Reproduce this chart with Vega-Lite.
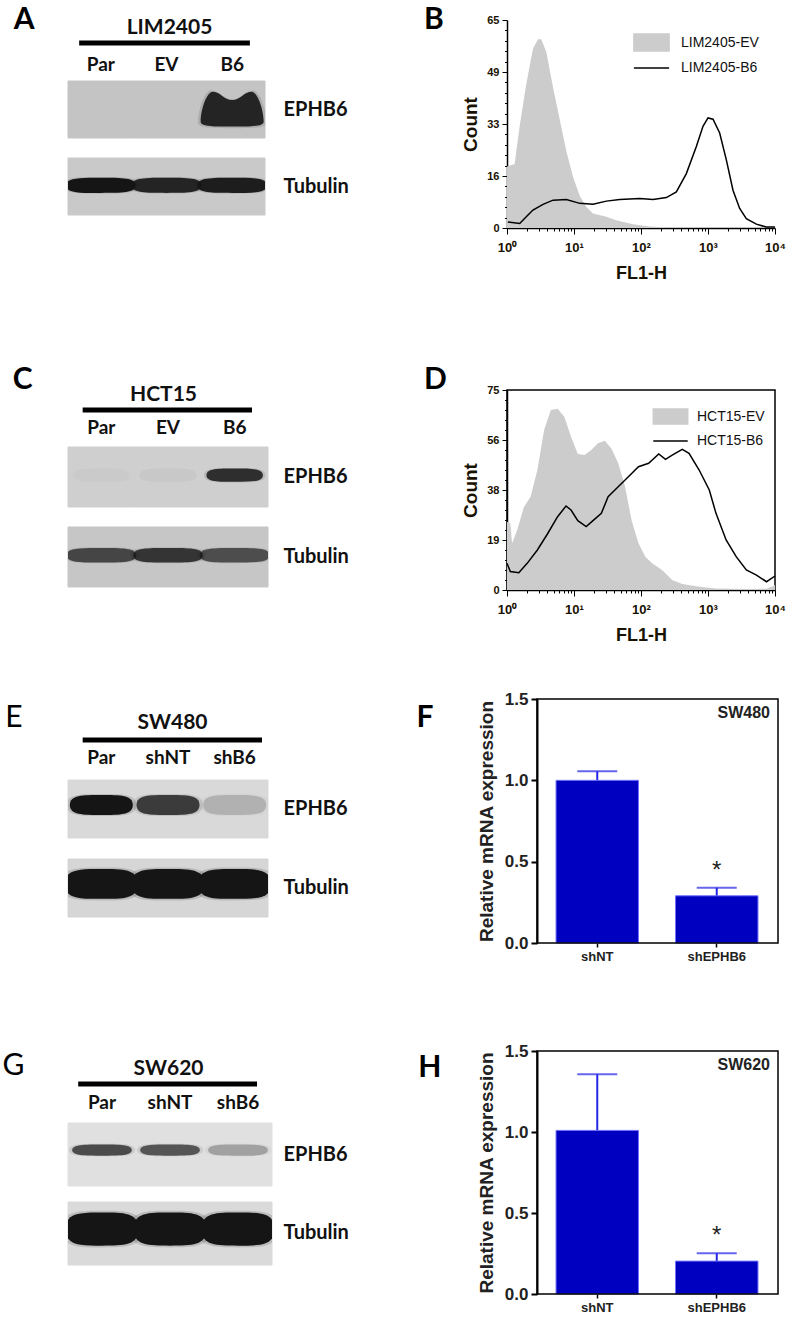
{
  "$schema": "https://vega.github.io/schema/vega-lite/v6.json",
  "background": "white",
  "padding": {"left": 2, "top": 5, "right": 0, "bottom": 0},
  "columns": 2,
  "align": {"row": "each", "column": "none"},
  "bounds": "flush",
  "spacing": {"row": 108, "column": 235},
  "config": {
    "view": {"stroke": null},
    "font": "Liberation Sans",
    "axis": {"grid": false, "domainColor": "black", "tickColor": "black", "labelFont": "Liberation Sans", "titleFont": "Liberation Sans", "labelColor": "black", "titleColor": "black"},
    "legend": {"labelFont": "Liberation Sans"},
    "title": {"font": "Lato"}
  },
  "resolve": {"scale": {"x": "independent", "y": "independent", "color": "independent", "stroke": "independent", "opacity": "independent", "fillOpacity": "independent", "shape": "independent"}, "legend": {"color": "independent"}},
  "datasets": {
    "blotA": [
      {"lane": "Par", "protein": "EPHB6", "level": 0},
      {"lane": "EV", "protein": "EPHB6", "level": 0},
      {"lane": "B6", "protein": "EPHB6", "level": 0.9},
      {"lane": "Par", "protein": "Tubulin", "level": 1},
      {"lane": "EV", "protein": "Tubulin", "level": 0.9},
      {"lane": "B6", "protein": "Tubulin", "level": 0.95}
    ],
    "blotC": [
      {"lane": "Par", "protein": "EPHB6", "level": 0.015},
      {"lane": "EV", "protein": "EPHB6", "level": 0.03},
      {"lane": "B6", "protein": "EPHB6", "level": 0.85},
      {"lane": "Par", "protein": "Tubulin", "level": 0.7},
      {"lane": "EV", "protein": "Tubulin", "level": 0.8},
      {"lane": "B6", "protein": "Tubulin", "level": 0.65}
    ],
    "blotE": [
      {"lane": "Par", "protein": "EPHB6", "level": 1},
      {"lane": "shNT", "protein": "EPHB6", "level": 0.78},
      {"lane": "shB6", "protein": "EPHB6", "level": 0.18},
      {"lane": "Par", "protein": "Tubulin", "level": 1},
      {"lane": "shNT", "protein": "Tubulin", "level": 1},
      {"lane": "shB6", "protein": "Tubulin", "level": 1}
    ],
    "blotG": [
      {"lane": "Par", "protein": "EPHB6", "level": 0.7},
      {"lane": "shNT", "protein": "EPHB6", "level": 0.65},
      {"lane": "shB6", "protein": "EPHB6", "level": 0.28},
      {"lane": "Par", "protein": "Tubulin", "level": 1},
      {"lane": "shNT", "protein": "Tubulin", "level": 1},
      {"lane": "shB6", "protein": "Tubulin", "level": 1}
    ],
    "histB": [
      {"sample": "LIM2405-EV", "fl": 1, "count": 19.2},
      {"sample": "LIM2405-EV", "fl": 1.3, "count": 20},
      {"sample": "LIM2405-EV", "fl": 1.55, "count": 32},
      {"sample": "LIM2405-EV", "fl": 1.94, "count": 45},
      {"sample": "LIM2405-EV", "fl": 2.44, "count": 56},
      {"sample": "LIM2405-EV", "fl": 2.9, "count": 59},
      {"sample": "LIM2405-EV", "fl": 3.25, "count": 59},
      {"sample": "LIM2405-EV", "fl": 3.86, "count": 55},
      {"sample": "LIM2405-EV", "fl": 4.86, "count": 44},
      {"sample": "LIM2405-EV", "fl": 6.11, "count": 34},
      {"sample": "LIM2405-EV", "fl": 7.69, "count": 24},
      {"sample": "LIM2405-EV", "fl": 9.66, "count": 16},
      {"sample": "LIM2405-EV", "fl": 12.2, "count": 10},
      {"sample": "LIM2405-EV", "fl": 15.3, "count": 6.6},
      {"sample": "LIM2405-EV", "fl": 19.2, "count": 4.5},
      {"sample": "LIM2405-EV", "fl": 30.4, "count": 3.5},
      {"sample": "LIM2405-EV", "fl": 42.8, "count": 2.4},
      {"sample": "LIM2405-EV", "fl": 76, "count": 1.2},
      {"sample": "LIM2405-EV", "fl": 135, "count": 0.5},
      {"sample": "LIM2405-EV", "fl": 239, "count": 0.2},
      {"sample": "LIM2405-EV", "fl": 1000, "count": 0},
      {"sample": "LIM2405-EV", "fl": 10000, "count": 0},
      {"sample": "LIM2405-B6", "fl": 1.03, "count": 1.9},
      {"sample": "LIM2405-B6", "fl": 1.55, "count": 1.4},
      {"sample": "LIM2405-B6", "fl": 1.94, "count": 3.5},
      {"sample": "LIM2405-B6", "fl": 2.44, "count": 5.6},
      {"sample": "LIM2405-B6", "fl": 3.45, "count": 7.4},
      {"sample": "LIM2405-B6", "fl": 4.86, "count": 8.7},
      {"sample": "LIM2405-B6", "fl": 7.69, "count": 8.9},
      {"sample": "LIM2405-B6", "fl": 12.2, "count": 7.7},
      {"sample": "LIM2405-B6", "fl": 19.2, "count": 7.4},
      {"sample": "LIM2405-B6", "fl": 30.4, "count": 8.4},
      {"sample": "LIM2405-B6", "fl": 48.1, "count": 8.9},
      {"sample": "LIM2405-B6", "fl": 95.5, "count": 9.2},
      {"sample": "LIM2405-B6", "fl": 151, "count": 8.9},
      {"sample": "LIM2405-B6", "fl": 239, "count": 9.5},
      {"sample": "LIM2405-B6", "fl": 337, "count": 11.3},
      {"sample": "LIM2405-B6", "fl": 475, "count": 17},
      {"sample": "LIM2405-B6", "fl": 670, "count": 25.5},
      {"sample": "LIM2405-B6", "fl": 842, "count": 31.8},
      {"sample": "LIM2405-B6", "fl": 1000, "count": 34.4},
      {"sample": "LIM2405-B6", "fl": 1188, "count": 34},
      {"sample": "LIM2405-B6", "fl": 1494, "count": 29.7},
      {"sample": "LIM2405-B6", "fl": 1878, "count": 21.3},
      {"sample": "LIM2405-B6", "fl": 2360, "count": 11.8},
      {"sample": "LIM2405-B6", "fl": 2970, "count": 6.1},
      {"sample": "LIM2405-B6", "fl": 3733, "count": 2.9},
      {"sample": "LIM2405-B6", "fl": 5265, "count": 1.2},
      {"sample": "LIM2405-B6", "fl": 7425, "count": 0.3},
      {"sample": "LIM2405-B6", "fl": 10000, "count": 0.3}
    ],
    "histD": [
      {"sample": "HCT15-EV", "fl": 1, "count": 25.6},
      {"sample": "HCT15-EV", "fl": 1.12, "count": 25},
      {"sample": "HCT15-EV", "fl": 1.19, "count": 17.5},
      {"sample": "HCT15-EV", "fl": 1.42, "count": 22.5},
      {"sample": "HCT15-EV", "fl": 1.78, "count": 31},
      {"sample": "HCT15-EV", "fl": 2.25, "count": 35},
      {"sample": "HCT15-EV", "fl": 2.84, "count": 45},
      {"sample": "HCT15-EV", "fl": 3.58, "count": 60},
      {"sample": "HCT15-EV", "fl": 4.51, "count": 67.5},
      {"sample": "HCT15-EV", "fl": 5.69, "count": 68},
      {"sample": "HCT15-EV", "fl": 7.17, "count": 65},
      {"sample": "HCT15-EV", "fl": 9.03, "count": 57.5},
      {"sample": "HCT15-EV", "fl": 11.4, "count": 51},
      {"sample": "HCT15-EV", "fl": 14.4, "count": 50.6},
      {"sample": "HCT15-EV", "fl": 18.1, "count": 52.5},
      {"sample": "HCT15-EV", "fl": 22.8, "count": 55},
      {"sample": "HCT15-EV", "fl": 28.8, "count": 56},
      {"sample": "HCT15-EV", "fl": 36.3, "count": 53},
      {"sample": "HCT15-EV", "fl": 45.7, "count": 47.5},
      {"sample": "HCT15-EV", "fl": 57.7, "count": 38.8},
      {"sample": "HCT15-EV", "fl": 72.7, "count": 26},
      {"sample": "HCT15-EV", "fl": 91.7, "count": 17.5},
      {"sample": "HCT15-EV", "fl": 116, "count": 12.5},
      {"sample": "HCT15-EV", "fl": 146, "count": 10},
      {"sample": "HCT15-EV", "fl": 206, "count": 7.5},
      {"sample": "HCT15-EV", "fl": 292, "count": 3.75},
      {"sample": "HCT15-EV", "fl": 413, "count": 2.25},
      {"sample": "HCT15-EV", "fl": 738, "count": 1.25},
      {"sample": "HCT15-EV", "fl": 1316, "count": 0.6},
      {"sample": "HCT15-EV", "fl": 4198, "count": 0.4},
      {"sample": "HCT15-EV", "fl": 7482, "count": 0.5},
      {"sample": "HCT15-EV", "fl": 9500, "count": 1.5},
      {"sample": "HCT15-EV", "fl": 10000, "count": 2},
      {"sample": "HCT15-B6", "fl": 1, "count": 10},
      {"sample": "HCT15-B6", "fl": 1.12, "count": 6.9},
      {"sample": "HCT15-B6", "fl": 1.5, "count": 6.5},
      {"sample": "HCT15-B6", "fl": 2, "count": 10},
      {"sample": "HCT15-B6", "fl": 2.84, "count": 15},
      {"sample": "HCT15-B6", "fl": 4.01, "count": 21},
      {"sample": "HCT15-B6", "fl": 5.69, "count": 27.5},
      {"sample": "HCT15-B6", "fl": 7.6, "count": 31.5},
      {"sample": "HCT15-B6", "fl": 9.03, "count": 30},
      {"sample": "HCT15-B6", "fl": 11.4, "count": 26},
      {"sample": "HCT15-B6", "fl": 15.2, "count": 23.75},
      {"sample": "HCT15-B6", "fl": 19.2, "count": 26},
      {"sample": "HCT15-B6", "fl": 25.6, "count": 28.75},
      {"sample": "HCT15-B6", "fl": 32.3, "count": 35},
      {"sample": "HCT15-B6", "fl": 45.7, "count": 38.75},
      {"sample": "HCT15-B6", "fl": 64.8, "count": 42.5},
      {"sample": "HCT15-B6", "fl": 91.7, "count": 46.25},
      {"sample": "HCT15-B6", "fl": 130, "count": 47.5},
      {"sample": "HCT15-B6", "fl": 184, "count": 51},
      {"sample": "HCT15-B6", "fl": 232, "count": 49},
      {"sample": "HCT15-B6", "fl": 292, "count": 50.6},
      {"sample": "HCT15-B6", "fl": 413, "count": 52.75},
      {"sample": "HCT15-B6", "fl": 521, "count": 51.25},
      {"sample": "HCT15-B6", "fl": 738, "count": 45},
      {"sample": "HCT15-B6", "fl": 1045, "count": 37.5},
      {"sample": "HCT15-B6", "fl": 1316, "count": 28.75},
      {"sample": "HCT15-B6", "fl": 1864, "count": 18.75},
      {"sample": "HCT15-B6", "fl": 2636, "count": 12.5},
      {"sample": "HCT15-B6", "fl": 3733, "count": 7.5},
      {"sample": "HCT15-B6", "fl": 5286, "count": 5.6},
      {"sample": "HCT15-B6", "fl": 7482, "count": 3.1},
      {"sample": "HCT15-B6", "fl": 10000, "count": 5.25}
    ],
    "barsF": [
      {"group": "shNT", "mean": 1.0, "sem": 0.056, "cell": "SW480"},
      {"group": "shEPHB6", "mean": 0.29, "sem": 0.05, "sig": "*", "cell": "SW480"}
    ],
    "barsH": [
      {"group": "shNT", "mean": 1.01, "sem": 0.346, "cell": "SW620"},
      {"group": "shEPHB6", "mean": 0.203, "sem": 0.048, "sig": "*", "cell": "SW620"}
    ]
  },
  "concat": [
    {
      "width": 197, "height": 262,
      "data": {"name": "blotA"},
      "title": {"text": "A", "orient": "left", "anchor": "end", "frame": "group", "angle": 0, "align": "left", "baseline": "top", "offset": 33, "dy": -15, "font": "Lato", "fontSize": 30, "fontWeight": "bold", "color": "black"},
      "resolve": {"scale": {"opacity": "independent", "fillOpacity": "independent"}},
      "encoding": {
        "x": {"field": "lane", "type": "nominal", "scale": {"domain": ["Par", "EV", "B6"], "paddingInner": 0, "paddingOuter": 0},
          "axis": {"orient": "top", "title": "LIM2405", "titleX": 101, "offset": -61, "domain": false, "ticks": false, "labelAngle": 0, "labelPadding": 7, "labelFont": "Lato", "labelFontSize": 19, "labelFontWeight": "bold", "labelColor": "#111", "titleFont": "Lato", "titleFontSize": 21, "titleFontWeight": "bold", "titleColor": "#111", "titlePadding": 18}},
        "y": {"field": "protein", "type": "nominal", "scale": {"domain": ["EPHB6", "Tubulin"], "paddingInner": 0.2597, "paddingOuter": 0.8312, "align": 0.4766},
          "axis": {"orient": "right", "title": null, "domain": false, "ticks": false, "labelPadding": 18, "labelFont": "Lato", "labelFontSize": 20, "labelFontWeight": "bold", "labelColor": "#111"}}
      },
      "layer": [
        {"mark": {"type": "rect", "strokeWidth": 1}, "encoding": {
          "color": {"field": "protein", "type": "nominal", "scale": {"domain": ["EPHB6", "Tubulin"], "range": ["#c4c4c4", "#c9c9c9"]}, "legend": null},
          "stroke": {"field": "protein", "type": "nominal", "scale": {"domain": ["EPHB6", "Tubulin"], "range": ["#c4c4c4", "#c9c9c9"]}, "legend": null}}},
        {"mark": {"type": "point", "filled": true, "clip": true, "size": 5200, "strokeWidth": 0, "color": "#333"},
         "encoding": {"y": {"field": "protein", "type": "nominal", "bandPosition": 0.48},
           "shape": {"field": "protein", "type": "nominal", "scale": {"domain": ["EPHB6", "Tubulin"], "range": ["M-0.95,0.4C-0.95,0.1,-0.8,-0.45,-0.6,-0.5C-0.35,-0.5,-0.25,-0.25,0,-0.25C0.25,-0.25,0.35,-0.5,0.6,-0.5C0.8,-0.45,0.95,0.1,0.95,0.4C0.95,0.55,0.5,0.55,0,0.55C-0.5,0.55,-0.95,0.55,-0.95,0.4Z", "M-1.05,0C-1.05,-0.23,-0.63,-0.23,0,-0.23C0.63,-0.23,1.05,-0.23,1.05,0C1.05,0.23,0.63,0.23,0,0.23C-0.63,0.23,-1.05,0.23,-1.05,0Z"]}, "legend": null},
           "fillOpacity": {"field": "level", "type": "quantitative", "scale": {"domain": [0, 1], "range": [0, 0.25]}, "legend": null}}},
        {"mark": {"type": "point", "filled": true, "clip": true, "size": 4400, "strokeWidth": 0, "color": "#151515"},
         "encoding": {"y": {"field": "protein", "type": "nominal", "bandPosition": 0.48},
           "shape": {"field": "protein", "type": "nominal", "legend": null},
           "opacity": {"field": "level", "type": "quantitative", "scale": {"domain": [0, 1], "range": [0, 1]}, "legend": null}}},
        {"data": {"values": [{"cell": "LIM2405"}]},
         "mark": {"type": "rule", "color": "black", "strokeWidth": 5, "yOffset": -38},
         "encoding": {"x": {"datum": "Par", "type": "nominal", "bandPosition": 0.17}, "x2": {"datum": "B6", "bandPosition": 0.77}, "y": {"datum": "EPHB6", "type": "nominal", "bandPosition": 0}}}
      ]
    },
    {
      "width": 268, "height": 208,
      "data": {"name": "histB"},
      "view": {"stroke": null},
      "title": {"text": "B", "orient": "left", "anchor": "end", "frame": "group", "angle": 0, "align": "left", "baseline": "top", "offset": 18, "dy": -15, "font": "Lato", "fontSize": 30, "fontWeight": "bold", "color": "black"},
      "encoding": {
        "x": {"field": "fl", "type": "quantitative", "scale": {"type": "log", "domain": [1, 10000], "nice": false},
          "axis": {"title": "FL1-H", "values": [1,2,3,4,5,6,7,8,9,10,20,30,40,50,60,70,80,90,100,200,300,400,500,600,700,800,900,1000,2000,3000,4000,5000,6000,7000,8000,9000,10000],
            "labelExpr": "abs(log(datum.value)/LN10 - round(log(datum.value)/LN10)) < 0.001 ? '10' + ['⁰','¹','²','³','⁴'][round(log(datum.value)/LN10)] : ''",
            "tickSize": {"condition": {"test": "abs(log(datum.value)/LN10 - round(log(datum.value)/LN10)) < 0.001", "value": 6}, "value": 3},
            "domainWidth": 1.5, "labelFontSize": 13, "labelFontWeight": "bold", "labelColor": "#1a1200", "labelPadding": 7, "labelOverlap": false, "labelFlush": false, "labelBound": false,
            "titleFontSize": 18, "titleFontWeight": "bold", "titleColor": "#1a1200", "titlePadding": 10}},
        "y": {"field": "count", "type": "quantitative", "stack": null, "scale": {"domain": [0, 65], "nice": false},
          "axis": {"title": "Count", "values": [0,3.25,6.5,9.75,13,16.25,19.5,22.75,26,29.25,32.5,35.75,39,42.25,45.5,48.75,52,55.25,58.5,61.75,65],
            "labelExpr": "abs(datum.value/16.25 - round(datum.value/16.25)) < 0.01 ? '' + round(datum.value) : ''",
            "tickSize": {"condition": {"test": "abs(datum.value/16.25 - round(datum.value/16.25)) < 0.01", "value": 5}, "value": 2.5},
            "domainWidth": 1.5, "labelFontSize": 11, "labelFontWeight": "bold", "labelColor": "#1a1200", "labelPadding": 3, "labelOverlap": false, "labelFlush": false, "labelBound": false,
            "titleFontSize": 19, "titleFontWeight": "bold", "titleColor": "#1a1200", "titlePadding": 6}},
        "color": {"field": "sample", "type": "nominal", "scale": {"domain": ["LIM2405-EV", "LIM2405-B6"], "range": ["#cccccc", "#000000"]},
          "legend": {"orient": "none", "legendX": 135.5, "legendY": 13.5, "title": null, "padding": 0, "offset": 0, "symbolSize": 256, "labelOffset": 20.5, "rowPadding": 4.5, "labelFontSize": 14, "labelColor": "#111",
            "encode": {"symbols": {"update": {
              "shape": {"signal": "datum.value === 'LIM2405-EV' ? 'M-2.2,-1.06H2.2V1.06H-2.2Z' : 'M-2.2,0H2.2'"},
              "fill": {"signal": "datum.value === 'LIM2405-EV' ? '#cccccc' : 'transparent'"},
              "stroke": {"signal": "datum.value === 'LIM2405-EV' ? 'transparent' : '#000000'"},
              "strokeWidth": {"value": 1.5}, "opacity": {"value": 1}, "fillOpacity": {"value": 1}}}}}}
      },
      "layer": [
        {"transform": [{"filter": "datum.sample === 'LIM2405-EV'"}], "mark": {"type": "area", "opacity": 1}},
        {"transform": [{"filter": "datum.sample === 'LIM2405-B6'"}], "mark": {"type": "line", "strokeWidth": 1.5}}
      ]
    },
    {
      "width": 200, "height": 201,
      "data": {"name": "blotC"},
      "title": {"text": "C", "orient": "left", "anchor": "end", "frame": "group", "angle": 0, "align": "left", "baseline": "top", "offset": 35, "dy": -25, "font": "Lato", "fontSize": 30, "fontWeight": "bold", "color": "black"},
      "resolve": {"scale": {"opacity": "independent", "fillOpacity": "independent"}},
      "encoding": {
        "x": {"field": "lane", "type": "nominal", "scale": {"domain": ["Par", "EV", "B6"], "paddingInner": 0, "paddingOuter": 0},
          "axis": {"orient": "top", "title": "HCT15", "titleX": 95, "offset": -57, "domain": false, "ticks": false, "labelAngle": 0, "labelPadding": 10, "labelFont": "Lato", "labelFontSize": 19, "labelFontWeight": "bold", "labelColor": "#111", "titleFont": "Lato", "titleFontSize": 21, "titleFontWeight": "bold", "titleColor": "#111", "titlePadding": 14}},
        "y": {"field": "protein", "type": "nominal", "scale": {"domain": ["EPHB6", "Tubulin"], "paddingInner": 0.25, "paddingOuter": 0.38125, "align": 0.9344},
          "axis": {"orient": "right", "title": null, "domain": false, "ticks": false, "labelPadding": 15, "labelFont": "Lato", "labelFontSize": 20, "labelFontWeight": "bold", "labelColor": "#111"}}
      },
      "layer": [
        {"mark": {"type": "rect", "strokeWidth": 1}, "encoding": {
          "color": {"field": "protein", "type": "nominal", "scale": {"domain": ["EPHB6", "Tubulin"], "range": ["#cfcfcf", "#c6c6c6"]}, "legend": null},
          "stroke": {"field": "protein", "type": "nominal", "scale": {"domain": ["EPHB6", "Tubulin"], "range": ["#cfcfcf", "#c6c6c6"]}, "legend": null}}},
        {"mark": {"type": "point", "filled": true, "clip": true, "size": 5200, "strokeWidth": 0, "color": "#333"},
         "encoding": {"y": {"field": "protein", "type": "nominal", "bandPosition": 0.47},
           "shape": {"field": "protein", "type": "nominal", "scale": {"domain": ["EPHB6", "Tubulin"], "range": ["M-0.85,0C-0.85,-0.2,-0.51,-0.2,0,-0.2C0.51,-0.2,0.85,-0.2,0.85,0C0.85,0.2,0.51,0.2,0,0.2C-0.51,0.2,-0.85,0.2,-0.85,0Z", "M-1.05,0C-1.05,-0.22,-0.63,-0.22,0,-0.22C0.63,-0.22,1.05,-0.22,1.05,0C1.05,0.22,0.63,0.22,0,0.22C-0.63,0.22,-1.05,0.22,-1.05,0Z"]}, "legend": null},
           "fillOpacity": {"field": "level", "type": "quantitative", "scale": {"domain": [0, 1], "range": [0, 0.25]}, "legend": null}}},
        {"mark": {"type": "point", "filled": true, "clip": true, "size": 4400, "strokeWidth": 0, "color": "#151515"},
         "encoding": {"y": {"field": "protein", "type": "nominal", "bandPosition": 0.47},
           "shape": {"field": "protein", "type": "nominal", "legend": null},
           "opacity": {"field": "level", "type": "quantitative", "scale": {"domain": [0, 1], "range": [0, 1]}, "legend": null}}},
        {"data": {"values": [{"cell": "HCT15"}]},
         "mark": {"type": "rule", "color": "black", "strokeWidth": 5, "yOffset": -37},
         "encoding": {"x": {"datum": "Par", "type": "nominal", "bandPosition": 0.22}, "x2": {"datum": "B6", "bandPosition": 0.76}, "y": {"datum": "EPHB6", "type": "nominal", "bandPosition": 0}}}
      ]
    },
    {
      "width": 268, "height": 200,
      "data": {"name": "histD"},
      "view": {"stroke": "black", "strokeWidth": 1.5},
      "title": {"text": "D", "orient": "left", "anchor": "end", "frame": "group", "angle": 0, "align": "left", "baseline": "top", "offset": 15, "dy": -25, "font": "Lato", "fontSize": 30, "fontWeight": "bold", "color": "black"},
      "encoding": {
        "x": {"field": "fl", "type": "quantitative", "scale": {"type": "log", "domain": [1, 10000], "nice": false},
          "axis": {"title": "FL1-H", "values": [1,2,3,4,5,6,7,8,9,10,20,30,40,50,60,70,80,90,100,200,300,400,500,600,700,800,900,1000,2000,3000,4000,5000,6000,7000,8000,9000,10000],
            "labelExpr": "abs(log(datum.value)/LN10 - round(log(datum.value)/LN10)) < 0.001 ? '10' + ['⁰','¹','²','³','⁴'][round(log(datum.value)/LN10)] : ''",
            "tickSize": {"condition": {"test": "abs(log(datum.value)/LN10 - round(log(datum.value)/LN10)) < 0.001", "value": 6}, "value": 3},
            "domainWidth": 1.5, "labelFontSize": 13, "labelFontWeight": "bold", "labelColor": "#1a1200", "labelPadding": 7, "labelOverlap": false, "labelFlush": false, "labelBound": false,
            "titleFontSize": 18, "titleFontWeight": "bold", "titleColor": "#1a1200", "titlePadding": 10}},
        "y": {"field": "count", "type": "quantitative", "stack": null, "scale": {"domain": [0, 75], "nice": false},
          "axis": {"title": "Count", "values": [0,3.75,7.5,11.25,15,18.75,22.5,26.25,30,33.75,37.5,41.25,45,48.75,52.5,56.25,60,63.75,67.5,71.25,75],
            "labelExpr": "abs(datum.value/18.75 - round(datum.value/18.75)) < 0.01 ? '' + round(datum.value) : ''",
            "tickSize": {"condition": {"test": "abs(datum.value/18.75 - round(datum.value/18.75)) < 0.01", "value": 5}, "value": 2.5},
            "domainWidth": 1.5, "labelFontSize": 11, "labelFontWeight": "bold", "labelColor": "#1a1200", "labelPadding": 3, "labelOverlap": false, "labelFlush": false, "labelBound": false,
            "titleFontSize": 19, "titleFontWeight": "bold", "titleColor": "#1a1200", "titlePadding": 6}},
        "color": {"field": "sample", "type": "nominal", "scale": {"domain": ["HCT15-EV", "HCT15-B6"], "range": ["#cccccc", "#000000"]},
          "legend": {"orient": "none", "legendX": 154.5, "legendY": 17.5, "title": null, "padding": 0, "offset": 0, "symbolSize": 256, "labelOffset": 17.5, "rowPadding": 4.5, "labelFontSize": 14, "labelColor": "#111",
            "encode": {"symbols": {"update": {
              "shape": {"signal": "datum.value === 'HCT15-EV' ? 'M-2.15,-0.95H2.15V0.95H-2.15Z' : 'M-2.15,0H2.15'"},
              "fill": {"signal": "datum.value === 'HCT15-EV' ? '#cccccc' : 'transparent'"},
              "stroke": {"signal": "datum.value === 'HCT15-EV' ? 'transparent' : '#000000'"},
              "strokeWidth": {"value": 1.5}, "opacity": {"value": 1}, "fillOpacity": {"value": 1}}}}}}
      },
      "layer": [
        {"transform": [{"filter": "datum.sample === 'HCT15-EV'"}], "mark": {"type": "area", "opacity": 1}},
        {"transform": [{"filter": "datum.sample === 'HCT15-B6'"}], "mark": {"type": "line", "strokeWidth": 1.5}}
      ]
    },
    {
      "width": 200, "height": 218,
      "data": {"name": "blotE"},
      "title": {"text": "E", "orient": "left", "anchor": "end", "frame": "group", "angle": 0, "align": "left", "baseline": "top", "offset": 45, "dy": 4, "font": "Lato", "fontSize": 30, "fontWeight": "normal", "color": "black"},
      "resolve": {"scale": {"opacity": "independent", "fillOpacity": "independent"}},
      "encoding": {
        "x": {"field": "lane", "type": "nominal", "scale": {"domain": ["Par", "shNT", "shB6"], "paddingInner": 0, "paddingOuter": 0},
          "axis": {"orient": "top", "title": "SW480", "titleX": 104, "offset": -81, "domain": false, "ticks": false, "labelAngle": 0, "labelPadding": 13, "labelFont": "Lato", "labelFontSize": 19, "labelFontWeight": "bold", "labelColor": "#111", "titleFont": "Lato", "titleFontSize": 21, "titleFontWeight": "bold", "titleColor": "#111", "titlePadding": 16}},
        "y": {"field": "protein", "type": "nominal", "scale": {"domain": ["EPHB6", "Tubulin"], "paddingInner": 0.2658, "paddingOuter": 0.5127, "align": 1},
          "axis": {"orient": "right", "title": null, "domain": false, "ticks": false, "labelPadding": 15, "labelFont": "Lato", "labelFontSize": 20, "labelFontWeight": "bold", "labelColor": "#111"}}
      },
      "layer": [
        {"mark": {"type": "rect", "strokeWidth": 1}, "encoding": {
          "color": {"field": "protein", "type": "nominal", "scale": {"domain": ["EPHB6", "Tubulin"], "range": ["#d9d9d9", "#d6d6d6"]}, "legend": null},
          "stroke": {"field": "protein", "type": "nominal", "scale": {"domain": ["EPHB6", "Tubulin"], "range": ["#d9d9d9", "#d6d6d6"]}, "legend": null}}},
        {"mark": {"type": "point", "filled": true, "clip": true, "size": 5400, "strokeWidth": 0, "color": "#333"},
         "encoding": {"y": {"field": "protein", "type": "nominal", "bandPosition": 0.43},
           "shape": {"field": "protein", "type": "nominal", "scale": {"domain": ["EPHB6", "Tubulin"], "range": ["M-0.95,0C-0.95,-0.3,-0.57,-0.3,0,-0.3C0.57,-0.3,0.95,-0.3,0.95,0C0.95,0.3,0.57,0.3,0,0.3C-0.57,0.3,-0.95,0.3,-0.95,0Z", "M-1.1,0C-1.1,-0.45,-0.66,-0.45,0,-0.45C0.66,-0.45,1.1,-0.45,1.1,0C1.1,0.45,0.66,0.45,0,0.45C-0.66,0.45,-1.1,0.45,-1.1,0Z"]}, "legend": null},
           "fillOpacity": {"field": "level", "type": "quantitative", "scale": {"domain": [0, 1], "range": [0, 0.25]}, "legend": null}}},
        {"mark": {"type": "point", "filled": true, "clip": true, "size": 4400, "strokeWidth": 0, "color": "#151515"},
         "encoding": {"y": {"field": "protein", "type": "nominal", "bandPosition": 0.43},
           "shape": {"field": "protein", "type": "nominal", "legend": null},
           "opacity": {"field": "level", "type": "quantitative", "scale": {"domain": [0, 1], "range": [0, 1]}, "legend": null}}},
        {"data": {"values": [{"cell": "SW480"}]},
         "mark": {"type": "rule", "color": "black", "strokeWidth": 5, "yOffset": -40},
         "encoding": {"x": {"datum": "Par", "type": "nominal", "bandPosition": 0.22}, "x2": {"datum": "shB6", "bandPosition": 0.91}, "y": {"datum": "EPHB6", "type": "nominal", "bandPosition": 0}}}
      ]
    },
    {
      "width": 271, "height": 244,
      "data": {"name": "barsF"},
      "view": {"stroke": null},
      "title": {"text": "F", "orient": "left", "anchor": "end", "frame": "group", "angle": 0, "align": "left", "baseline": "top", "offset": 44, "dy": 4, "font": "Lato", "fontSize": 30, "fontWeight": "bold", "color": "black"},
      "encoding": {
        "x": {"field": "group", "type": "nominal", "scale": {"domain": ["shNT", "shEPHB6"], "paddingInner": 0.31, "paddingOuter": 0.289, "align": 0.71},
          "axis": {"title": null, "domain": false, "labelAngle": 0, "labelFontSize": 13, "labelFontWeight": "bold", "labelColor": "#222", "tickSize": 4, "tickWidth": 1.5, "labelPadding": 3}}
      },
      "layer": [
        {"mark": {"type": "errorbar", "color": "#2424e6", "thickness": 2, "ticks": {"size": 40, "thickness": 2, "color": "#2424e6"}, "rule": {"strokeWidth": 2}},
         "encoding": {"y": {"field": "mean", "type": "quantitative", "scale": {"domain": [0, 1.5], "nice": false},
           "axis": {"title": "Relative mRNA expression", "offset": -30, "values": [0, 0.5, 1, 1.5], "format": ".1f", "labelFontSize": 17, "labelFontWeight": "bold", "labelColor": "#222", "titleFontSize": 19, "titleFontWeight": "bold", "titleColor": "#222", "tickSize": 6, "tickWidth": 2, "domainWidth": 2, "labelPadding": 3, "titlePadding": 8}},
           "yError": {"field": "sem"}}},
        {"mark": {"type": "bar", "color": "#0000c0", "stroke": "#7070ff", "strokeWidth": 1}, "encoding": {"y": {"field": "mean", "type": "quantitative"}}},
        {"transform": [{"filter": "datum.sig"}], "mark": {"type": "text", "fontSize": 24, "dy": -25, "baseline": "middle", "color": "#222"},
         "encoding": {"y": {"field": "mean", "type": "quantitative"}, "text": {"field": "sig"}}},
        {"transform": [{"filter": "datum.group === 'shEPHB6'"}], "mark": {"type": "text", "align": "right", "baseline": "middle", "fontSize": 16, "fontWeight": "bold", "dx": 12, "dy": 14, "color": "#222"},
         "encoding": {"x": {"field": "group", "type": "nominal", "bandPosition": 1}, "y": {"datum": 1.5, "type": "quantitative"}, "text": {"field": "cell"}}},
        {"data": {"values": [{"frame": "plot"}]}, "mark": {"type": "rect", "fill": "transparent", "stroke": "black", "strokeWidth": 1.5},
         "encoding": {"x": {"datum": "shNT", "type": "nominal", "bandPosition": -0.2308}, "x2": {"datum": "shEPHB6", "bandPosition": 1.243}, "y": {"datum": 0, "type": "quantitative"}, "y2": {"datum": 1.5}}}
      ]
    },
    {
      "width": 204, "height": 214,
      "data": {"name": "blotG"},
      "title": {"text": "G", "orient": "left", "anchor": "end", "frame": "group", "angle": 0, "align": "left", "baseline": "top", "offset": 43, "dy": 0, "font": "Lato", "fontSize": 30, "fontWeight": "normal", "color": "black"},
      "resolve": {"scale": {"opacity": "independent", "fillOpacity": "independent"}},
      "encoding": {
        "x": {"field": "lane", "type": "nominal", "scale": {"domain": ["Par", "shNT", "shB6"], "paddingInner": 0, "paddingOuter": 0},
          "axis": {"orient": "top", "title": "SW620", "titleX": 100, "offset": -72, "domain": false, "ticks": false, "labelAngle": 0, "labelPadding": 11, "labelFont": "Lato", "labelFontSize": 19, "labelFontWeight": "bold", "labelColor": "#111", "titleFont": "Lato", "titleFontSize": 21, "titleFontWeight": "bold", "titleColor": "#111", "titlePadding": 15}},
        "y": {"field": "protein", "type": "nominal", "scale": {"domain": ["EPHB6", "Tubulin"], "paddingInner": 0.2025, "paddingOuter": 0.4557, "align": 1},
          "axis": {"orient": "right", "title": null, "domain": false, "ticks": false, "labelPadding": 11, "labelFont": "Lato", "labelFontSize": 20, "labelFontWeight": "bold", "labelColor": "#111"}}
      },
      "layer": [
        {"mark": {"type": "rect", "strokeWidth": 1}, "encoding": {
          "color": {"field": "protein", "type": "nominal", "scale": {"domain": ["EPHB6", "Tubulin"], "range": ["#e0e0e0", "#dadada"]}, "legend": null},
          "stroke": {"field": "protein", "type": "nominal", "scale": {"domain": ["EPHB6", "Tubulin"], "range": ["#e0e0e0", "#dadada"]}, "legend": null}}},
        {"mark": {"type": "point", "filled": true, "clip": true, "size": 5400, "strokeWidth": 0, "color": "#333"},
         "encoding": {"y": {"field": "protein", "type": "nominal", "bandPosition": 0.43},
           "shape": {"field": "protein", "type": "nominal", "scale": {"domain": ["EPHB6", "Tubulin"], "range": ["M-0.9,0C-0.9,-0.17,-0.54,-0.17,0,-0.17C0.54,-0.17,0.9,-0.17,0.9,0C0.9,0.17,0.54,0.17,0,0.17C-0.54,0.17,-0.9,0.17,-0.9,0Z", "M-1.1,0C-1.1,-0.5,-0.66,-0.5,0,-0.5C0.66,-0.5,1.1,-0.5,1.1,0C1.1,0.5,0.66,0.5,0,0.5C-0.66,0.5,-1.1,0.5,-1.1,0Z"]}, "legend": null},
           "fillOpacity": {"field": "level", "type": "quantitative", "scale": {"domain": [0, 1], "range": [0, 0.25]}, "legend": null}}},
        {"mark": {"type": "point", "filled": true, "clip": true, "size": 4400, "strokeWidth": 0, "color": "#151515"},
         "encoding": {"y": {"field": "protein", "type": "nominal", "bandPosition": 0.43},
           "shape": {"field": "protein", "type": "nominal", "legend": null},
           "opacity": {"field": "level", "type": "quantitative", "scale": {"domain": [0, 1], "range": [0, 1]}, "legend": null}}},
        {"data": {"values": [{"cell": "SW620"}]},
         "mark": {"type": "rule", "color": "black", "strokeWidth": 5, "yOffset": -39},
         "encoding": {"x": {"datum": "Par", "type": "nominal", "bandPosition": 0.15}, "x2": {"datum": "shB6", "bandPosition": 0.78}, "y": {"datum": "EPHB6", "type": "nominal", "bandPosition": 0}}}
      ]
    },
    {
      "width": 271, "height": 243,
      "data": {"name": "barsH"},
      "view": {"stroke": null},
      "title": {"text": "H", "orient": "left", "anchor": "end", "frame": "group", "angle": 0, "align": "left", "baseline": "top", "offset": 36, "dy": 2, "font": "Lato", "fontSize": 30, "fontWeight": "bold", "color": "black"},
      "encoding": {
        "x": {"field": "group", "type": "nominal", "scale": {"domain": ["shNT", "shEPHB6"], "paddingInner": 0.31, "paddingOuter": 0.289, "align": 0.71},
          "axis": {"title": null, "domain": false, "labelAngle": 0, "labelFontSize": 13, "labelFontWeight": "bold", "labelColor": "#222", "tickSize": 4, "tickWidth": 1.5, "labelPadding": 3}}
      },
      "layer": [
        {"mark": {"type": "errorbar", "color": "#2424e6", "thickness": 2, "ticks": {"size": 40, "thickness": 2, "color": "#2424e6"}, "rule": {"strokeWidth": 2}},
         "encoding": {"y": {"field": "mean", "type": "quantitative", "scale": {"domain": [0, 1.5], "nice": false},
           "axis": {"title": "Relative mRNA expression", "offset": -30, "values": [0, 0.5, 1, 1.5], "format": ".1f", "labelFontSize": 17, "labelFontWeight": "bold", "labelColor": "#222", "titleFontSize": 19, "titleFontWeight": "bold", "titleColor": "#222", "tickSize": 6, "tickWidth": 2, "domainWidth": 2, "labelPadding": 3, "titlePadding": 8}},
           "yError": {"field": "sem"}}},
        {"mark": {"type": "bar", "color": "#0000c0", "stroke": "#7070ff", "strokeWidth": 1}, "encoding": {"y": {"field": "mean", "type": "quantitative"}}},
        {"transform": [{"filter": "datum.sig"}], "mark": {"type": "text", "fontSize": 24, "dy": -25, "baseline": "middle", "color": "#222"},
         "encoding": {"y": {"field": "mean", "type": "quantitative"}, "text": {"field": "sig"}}},
        {"transform": [{"filter": "datum.group === 'shEPHB6'"}], "mark": {"type": "text", "align": "right", "baseline": "middle", "fontSize": 16, "fontWeight": "bold", "dx": 12, "dy": 14, "color": "#222"},
         "encoding": {"x": {"field": "group", "type": "nominal", "bandPosition": 1}, "y": {"datum": 1.5, "type": "quantitative"}, "text": {"field": "cell"}}},
        {"data": {"values": [{"frame": "plot"}]}, "mark": {"type": "rect", "fill": "transparent", "stroke": "black", "strokeWidth": 1.5},
         "encoding": {"x": {"datum": "shNT", "type": "nominal", "bandPosition": -0.2308}, "x2": {"datum": "shEPHB6", "bandPosition": 1.243}, "y": {"datum": 0, "type": "quantitative"}, "y2": {"datum": 1.5}}}
      ]
    }
  ]
}
